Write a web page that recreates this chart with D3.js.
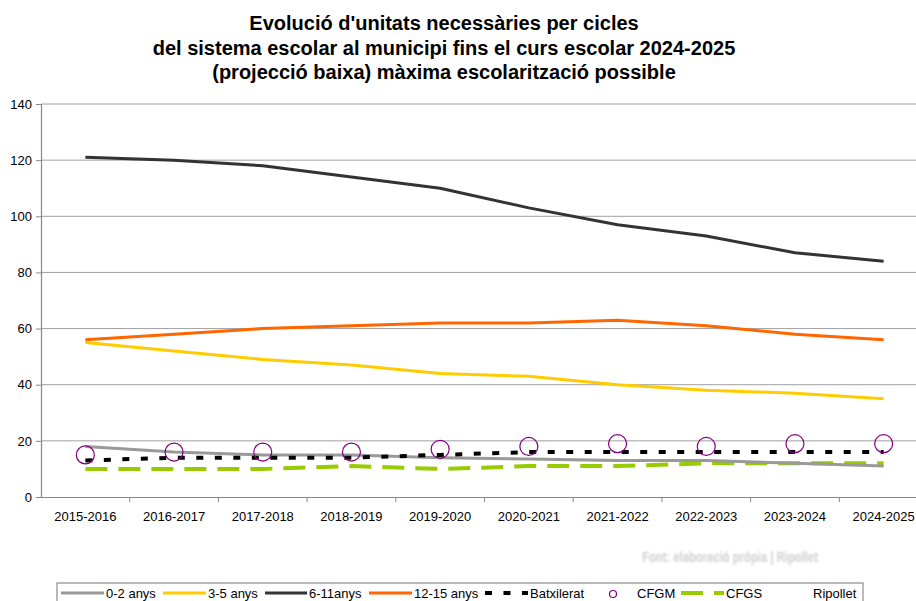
<!DOCTYPE html>
<html>
<head>
<meta charset="utf-8">
<script src="https://cdn.jsdelivr.net/npm/d3@7"></script>
<style>
  html, body { margin: 0; padding: 0; background: #fff; }
  svg { display: block; font-family: "Liberation Sans", Arial, sans-serif; }
</style>
</head>
<body>
<svg id="chart" width="916" height="601"></svg>
<script>
const titleLines = [
  "Evolució d'unitats necessàries per cicles",
  "del sistema escolar al municipi fins el curs escolar 2024-2025",
  "(projecció baixa) màxima escolarització possible"
];
const categories = ["2015-2016","2016-2017","2017-2018","2018-2019","2019-2020","2020-2021","2021-2022","2022-2023","2023-2024","2024-2025"];
const yTicks = [0, 20, 40, 60, 80, 100, 120, 140];

const s0_2 = [18, 16, 15, 15, 14, 13.5, 13, 13, 12, 11];
const s3_5 = [55, 52, 49, 47, 44, 43, 40, 38, 37, 35];
const s6_11 = [121, 120, 118, 114, 110, 103, 97, 93, 87, 84];
const s12_15 = [56, 58, 60, 61, 62, 62, 63, 61, 58, 56];
const sBatx = [13, 14, 14, 14, 15, 16, 16, 16, 16, 16];
const sCFGM = [15, 16, 16, 16, 17, 18, 19, 18, 19, 19];
const sCFGS = [10, 10, 10, 11, 10, 11, 11, 12, 12, 12];
const sRipollet = [];

const seriesNames = ["0-2 anys", "3-5 anys", "6-11anys", "12-15 anys", "Batxilerat", "CFGM", "CFGS", "Ripollet"];

const svg = d3.select("#chart");

// Title
svg.append("g").selectAll("text").data(titleLines).join("text")
  .attr("x", 444).attr("y", (d, i) => 30 + i * 24.5)
  .attr("text-anchor", "middle")
  .attr("font-size", 20).attr("font-weight", "bold").attr("fill", "#000")
  .text(d => d);

const pLeft = 41, pRight = 928, pTop = 104, pBottom = 497;
const x = d3.scaleBand().domain(categories).range([pLeft, pRight]);
const y = d3.scaleLinear().domain([0, 140]).range([pBottom, pTop]);
const cx = c => x(c) + x.bandwidth() / 2;

// gridlines
svg.append("g").selectAll("line").data(yTicks.filter(t => t > 0)).join("line")
  .attr("x1", pLeft).attr("x2", pRight)
  .attr("y1", d => y(d)).attr("y2", d => y(d))
  .attr("stroke", "#a0a0a0").attr("stroke-width", 1);

// Y axis
const yAxis = svg.append("g").attr("transform", `translate(${pLeft},0)`)
  .call(d3.axisLeft(y).tickValues(yTicks).tickSize(5).tickPadding(4));
yAxis.select(".domain").attr("stroke", "#888").attr("stroke-width", 1.2);
yAxis.selectAll(".tick line").attr("stroke", "#888");
yAxis.selectAll("text").attr("font-size", 13).attr("fill", "#000")
  .attr("font-family", "Liberation Sans, Arial, sans-serif");

// X axis
const xAxis = svg.append("g").attr("transform", `translate(0,${pBottom})`)
  .call(d3.axisBottom(x).tickSize(0).tickPadding(15));
xAxis.select(".domain").attr("stroke", "#888").attr("stroke-width", 1.2);
xAxis.selectAll("text").attr("font-size", 13).attr("fill", "#000")
  .attr("font-family", "Liberation Sans, Arial, sans-serif");
// boundary ticks
svg.append("g").selectAll("line").data(categories.slice(1)).join("line")
  .attr("x1", d => x(d)).attr("x2", d => x(d))
  .attr("y1", pBottom).attr("y2", pBottom + 5)
  .attr("stroke", "#888").attr("stroke-width", 1);

const line = d3.line().x((d, i) => cx(categories[i])).y(d => y(d));

const lineSeries = [
  { data: s3_5, color: "#ffcc00", width: 3 },
  { data: s12_15, color: "#ff6600", width: 3 },
  { data: s6_11, color: "#333333", width: 3 },
  { data: sCFGS, color: "#99cc00", width: 4, dash: "22,11" },
  { data: s0_2, color: "#999999", width: 3 },
  { data: sBatx, color: "#000000", width: 4, dash: "7,11.5" }
];
svg.append("g").selectAll("path").data(lineSeries).join("path")
  .attr("d", d => line(d.data))
  .attr("fill", "none")
  .attr("stroke", d => d.color)
  .attr("stroke-width", d => d.width)
  .attr("stroke-dasharray", d => d.dash || null)
  .attr("stroke-linejoin", "round");

// CFGM markers
svg.append("g").selectAll("circle").data(sCFGM).join("circle")
  .attr("cx", (d, i) => cx(categories[i])).attr("cy", d => y(d))
  .attr("r", 9).attr("fill", "none").attr("stroke", "#800080").attr("stroke-width", 1.2);

// blurred source note
const defs = svg.append("defs");
defs.append("filter").attr("id", "blur").append("feGaussianBlur").attr("stdDeviation", 1.1);
svg.append("text").attr("x", 642).attr("y", 562)
  .attr("font-size", 15).attr("font-weight", "bold").attr("fill", "#cfcfcf")
  .attr("filter", "url(#blur)").attr("textLength", 176).attr("lengthAdjust", "spacingAndGlyphs")
  .text("Font: elaboració pròpia | Ripollet");

// Legend
const lg = svg.append("g");
lg.append("rect").attr("x", 57).attr("y", 583).attr("width", 806).attr("height", 30)
  .attr("fill", "#fff").attr("stroke", "#777").attr("stroke-width", 1);
const ly = 593, lty = 597.5;
const legendItems = [
  { name: seriesNames[0], type: "line", color: "#999999", x1: 61, x2: 104, tx: 106 },
  { name: seriesNames[1], type: "line", color: "#ffcc00", x1: 163, x2: 206, tx: 208 },
  { name: seriesNames[2], type: "line", color: "#333333", x1: 265, x2: 307, tx: 309 },
  { name: seriesNames[3], type: "line", color: "#ff6600", x1: 369, x2: 412, tx: 414 },
  { name: seriesNames[4], type: "line", color: "#000000", x1: 485, x2: 528, tx: 530, dash: "7,11.5", w: 4 },
  { name: seriesNames[5], type: "circle", color: "#800080", x1: 613, tx: 637 },
  { name: seriesNames[6], type: "line", color: "#99cc00", x1: 681, x2: 724, tx: 726, dash: "22,11", w: 4 },
  { name: seriesNames[7], type: "none", tx: 813 }
];
legendItems.forEach(it => {
  if (it.type === "line") {
    lg.append("line").attr("x1", it.x1).attr("x2", it.x2).attr("y1", ly).attr("y2", ly)
      .attr("stroke", it.color).attr("stroke-width", it.w || 3)
      .attr("stroke-dasharray", it.dash || null);
  } else if (it.type === "circle") {
    lg.append("circle").attr("cx", it.x1).attr("cy", ly + 1).attr("r", 3.5)
      .attr("fill", "none").attr("stroke", it.color).attr("stroke-width", 1.2);
  }
  lg.append("text").attr("x", it.tx).attr("y", lty).attr("font-size", 13).attr("fill", "#000").text(it.name);
});
</script>
</body>
</html>
